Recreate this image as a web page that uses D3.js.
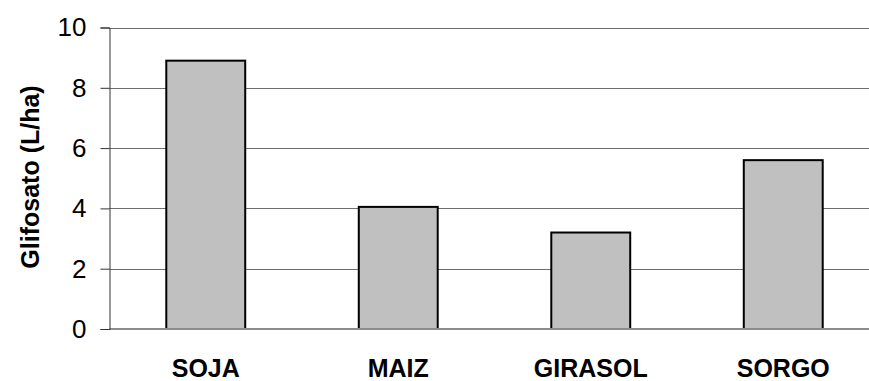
<!DOCTYPE html>
<html>
<head>
<meta charset="utf-8">
<script src="https://cdn.jsdelivr.net/npm/d3@7"></script>
<style>
  body { margin: 0; background: #fff; }
  svg { display: block; font-family: "Liberation Sans", Arial, sans-serif; }
</style>
</head>
<body>
<svg id="chart" width="869" height="381"></svg>
<script>
// chart data
var cultivos = ["SOJA", "MAIZ", "GIRASOL", "SORGO"];
var glifosato = [8.9, 4.05, 3.2, 5.6];
var yTicks = [0, 2, 4, 6, 8, 10];

var svg = d3.select("#chart");

// plot area (right side runs past the picture, as in the original)
var plotLeft = 109.5, plotRight = 879.5, plotTop = 27.5, plotBottom = 329;

var xScale = d3.scaleBand()
    .domain(cultivos)
    .range([plotLeft, plotRight])
    .paddingInner(0.59)
    .paddingOuter(0.295);

var yScale = d3.scaleLinear()
    .domain([0, 10])
    .range([plotBottom, plotTop]);

// gridlines
svg.append("g")
    .selectAll("line")
    .data(yTicks.filter(d => d != 0))
    .enter()
    .append("line")
    .attr("x1", plotLeft)
    .attr("x2", plotRight)
    .attr("y1", d => Math.round(yScale(d)) + 0.5)
    .attr("y2", d => Math.round(yScale(d)) + 0.5)
    .attr("stroke", "#6e6e6e")
    .attr("stroke-width", 1);

// bars
svg.append("g")
    .selectAll("rect")
    .data(cultivos)
    .enter()
    .append("rect")
    .attr("x", d => xScale(d))
    .attr("width", xScale.bandwidth())
    .attr("y", (d, i) => yScale(glifosato[i]))
    .attr("height", (d, i) => yScale(0) - yScale(glifosato[i]))
    .attr("fill", "#c0c0c0")
    .attr("stroke", "#000")
    .attr("stroke-width", 2);

// zero line
svg.append("line")
    .attr("x1", plotLeft)
    .attr("x2", plotRight)
    .attr("y1", yScale(0))
    .attr("y2", yScale(0))
    .attr("stroke", "#8c8c8c")
    .attr("stroke-width", 2);

// y axis
var yAxis = d3.axisLeft(yScale)
    .tickValues(yTicks)
    .tickSize(9)
    .tickPadding(14)
    .tickFormat(d3.format("d"));

var yGroup = svg.append("g")
    .attr("transform", "translate(" + plotLeft + ",0)")
    .call(yAxis);
yGroup.select(".domain").attr("stroke", "#333");
yGroup.selectAll(".tick line").attr("stroke", "#333");
yGroup.selectAll(".tick text")
    .attr("font-size", 26)
    .attr("fill", "#000")
    .attr("font-family", "Liberation Sans, Arial, sans-serif");

// category labels
svg.append("g")
    .selectAll("text")
    .data(cultivos)
    .enter()
    .append("text")
    .attr("x", d => xScale(d) + xScale.bandwidth() / 2)
    .attr("y", 377)
    .attr("text-anchor", "middle")
    .attr("font-size", 25)
    .attr("font-weight", "bold")
    .text(d => d);

// y label
svg.append("text")
    .attr("transform", "translate(39,177) rotate(-90)")
    .attr("text-anchor", "middle")
    .attr("font-size", 25)
    .attr("font-weight", "bold")
    .text("Glifosato (L/ha)");
</script>
</body>
</html>
